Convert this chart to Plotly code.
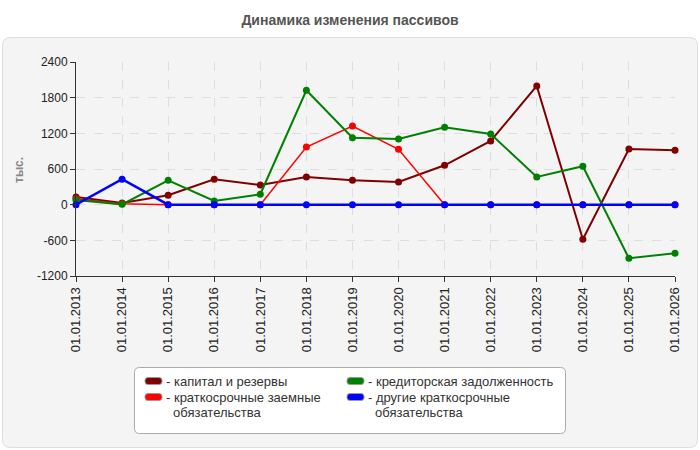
import plotly.graph_objects as go

dates = ["01.01.2013", "01.01.2014", "01.01.2015", "01.01.2016", "01.01.2017",
         "01.01.2018", "01.01.2019", "01.01.2020", "01.01.2021", "01.01.2022",
         "01.01.2023", "01.01.2024", "01.01.2025", "01.01.2026"]

capital = [130, 30, 160, 427, 331, 466, 410, 382, 663, 1071, 1997, -582, 937, 915]
short_loans = [100, 15, 0, 0, 0, 970, 1324, 932, 0, 0, 0, 0, 0, 0]
payables = [79, 5, 410, 62, 175, 1924, 1127, 1105, 1302, 1189, 466, 646, -902, -818]
other_short = [0, 427, 0, 0, 0, 0, 0, 0, 0, 0, 0, 0, 0, 0]

series_names = ["капитал и резервы", "краткосрочные заемные обязательства",
                "кредиторская задолженность", "другие краткосрочные обязательства"]
colors = ["#800000", "#ff0000", "#008000", "#0000ff"]
widths = [2, 1.5, 2, 2.5]

y_ticks = [-1200, -600, 0, 600, 1200, 1800, 2400]

W, H = 700, 450
L, R, T, B = 76, 675, 62, 276
FONT = "Liberation Sans, Arial"


def px(X):
    return (X - L) / (R - L)


def py(Y):
    return (B - Y) / (B - T)


fig = go.Figure()
for vals, name, c, w in zip([capital, short_loans, payables, other_short], series_names, colors, widths):
    fig.add_trace(go.Scatter(
        x=list(range(len(dates))), y=vals, name=name, mode="lines+markers",
        line=dict(color=c, width=w), marker=dict(color=c, size=7),
        showlegend=False, cliponaxis=False))

shapes = []


def rounded_rect(x0, y0, x1, y1, r, fill, line):
    p = []
    p.append(f"M {px(x0 + r)},{py(y0)}")
    p.append(f"L {px(x1 - r)},{py(y0)}")
    p.append(f"Q {px(x1)},{py(y0)} {px(x1)},{py(y0 + r)}")
    p.append(f"L {px(x1)},{py(y1 - r)}")
    p.append(f"Q {px(x1)},{py(y1)} {px(x1 - r)},{py(y1)}")
    p.append(f"L {px(x0 + r)},{py(y1)}")
    p.append(f"Q {px(x0)},{py(y1)} {px(x0)},{py(y1 - r)}")
    p.append(f"L {px(x0)},{py(y0 + r)}")
    p.append(f"Q {px(x0)},{py(y0)} {px(x0 + r)},{py(y0)} Z")
    return dict(type="path", path=" ".join(p), xref="paper", yref="paper",
                fillcolor=fill, line=dict(color=line, width=1), layer="below")


shapes.append(rounded_rect(2.5, 37.5, 697.5, 447.5, 8, "#f4f4f4", "#dddddd"))
shapes.append(rounded_rect(134.5, 367.5, 565.5, 433.5, 5, "#ffffff", "#aaaaaa"))

annotations = []
legend_items = [
    (145, 381, ["- капитал и резервы"]),
    (145, 397, ["- краткосрочные заемные", "обязательства"]),
    (347, 381, ["- кредиторская задолженность"]),
    (347, 397, ["- другие краткосрочные", "обязательства"]),
]
for (x0, yc, lines), c in zip(legend_items, colors):
    shapes.append(dict(type="path",
                       path=rounded_rect(x0, yc - 3.5, x0 + 17, yc + 3.5, 3, c, "#888888")["path"],
                       xref="paper", yref="paper", fillcolor=c,
                       line=dict(color="#999999", width=1), layer="above"))
    annotations.append(dict(x=px(x0 + 19), y=py(yc), xref="paper", yref="paper",
                            text=lines[0], showarrow=False, xanchor="left", yanchor="middle",
                            font=dict(size=13, color="#333333", family=FONT)))
    if len(lines) > 1:
        annotations.append(dict(x=px(x0 + 26), y=py(yc + 15), xref="paper", yref="paper",
                                text=lines[1], showarrow=False, xanchor="left", yanchor="middle",
                                font=dict(size=13, color="#333333", family=FONT)))

annotations.append(dict(x=px(19), y=py(170), xref="paper", yref="paper", text="<b>тыс.</b>",
                        textangle=-90, showarrow=False, xanchor="center", yanchor="middle",
                        font=dict(size=12, color="#888888", family=FONT)))

fig.update_layout(
    width=W, height=H,
    margin=dict(l=L, r=W - R, t=T, b=H - B),
    paper_bgcolor="#ffffff",
    plot_bgcolor="#fcfcf6",
    title=dict(text="<b>Динамика изменения пассивов</b>", x=0.5, xanchor="center",
               y=1 - 20 / H, yanchor="middle",
               font=dict(size=14, color="#555555", family=FONT)),
    shapes=shapes,
    annotations=annotations,
    showlegend=False,
    font=dict(family=FONT, size=12, color="#222222"),
)
fig.update_xaxes(
    range=[0, len(dates) - 1], tickmode="array", tickvals=list(range(len(dates))), ticktext=dates,
    tickangle=-90, showgrid=True, gridcolor="#dddddd", griddash="dash", gridwidth=1,
    showline=True, linecolor="#333333", linewidth=1, ticks="outside", ticklen=5,
    tickcolor="#333333", zeroline=False, tickfont=dict(size=13, color="#222222"))
fig.update_yaxes(
    range=[-1200, 2400], tickmode="array", tickvals=y_ticks, ticktext=[str(v) for v in y_ticks],
    showgrid=True, gridcolor="#dddddd", griddash="dash", gridwidth=1,
    showline=True, linecolor="#333333", linewidth=1, ticks="outside", ticklen=5,
    tickcolor="#333333", zeroline=False, tickfont=dict(size=12, color="#222222"))

fig.write_html("out.html")
